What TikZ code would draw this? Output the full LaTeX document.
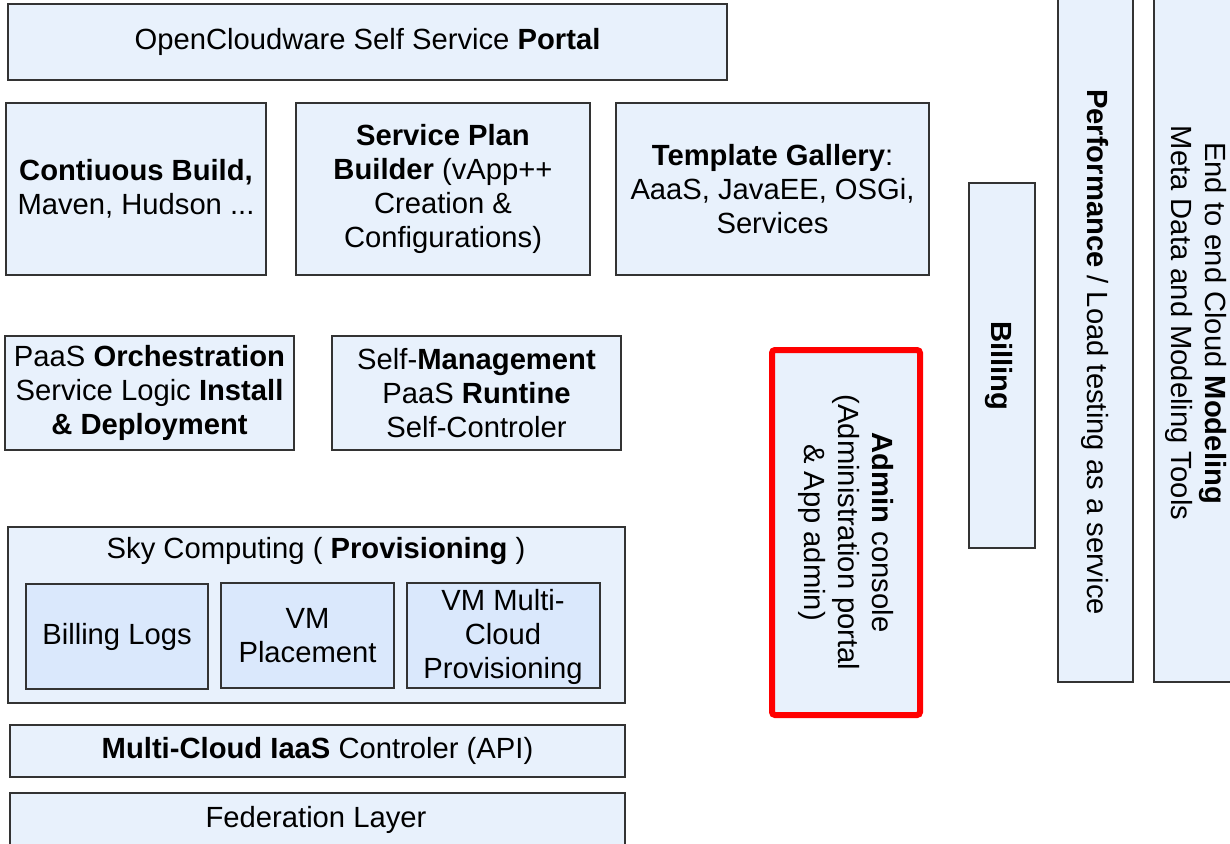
\documentclass[tikz,border=0pt]{standalone}
\usepackage{fontspec}
\setmainfont{Liberation Sans}
\usepackage{tikz}
\usetikzlibrary{fit}
\definecolor{BoxFill}{HTML}{E8F1FC}
\definecolor{SubFill}{HTML}{DAE8FC}
\definecolor{EdgeGray}{HTML}{333333}
\definecolor{AdminRed}{HTML}{FF0000}

\begin{document}
\begin{tikzpicture}[x=0.5pt, y=-0.5pt,
    every node/.style={font=\fontsize{14.6}{17}\selectfont, align=center},
    blk/.style={draw=EdgeGray, fill=BoxFill, line width=0.65pt, inner sep=0pt},
    subblk/.style={blk, fill=SubFill},
    vtext/.style={rotate=-90}]
  \useasboundingbox (0,0) rectangle (1230,843);

  % portal and the tooling row under it
  \node[blk, fit={(8,4) (727,80)}] (portal) {};
  \node (portaltxt) at (portal) {OpenCloudware Self Service \textbf{Portal}};
  \node[blk, fit={(6,103) (266,275)}] (build) {};
  \node (buildtxt) at (build) {\textbf{Contiuous Build,}\\Maven, Hudson ...};
  \node[blk, fit={(296,103) (590,275)}] (planner) {};
  \node (plannertxt) at (planner)
       {\textbf{Service Plan}\\\textbf{Builder} (vApp++\\Creation \&\\Configurations)};
  \node[blk, fit={(616,103) (929,275)}] (gallery) {};
  \node (gallerytxt) at (gallery)
       {\textbf{Template Gallery}:\\AaaS, JavaEE, OSGi,\\Services};

  % runtime layer
  \node[blk, fit={(5,336) (294,450)}] (orch) {};
  \node (orchtxt) at (orch)
       {PaaS \textbf{Orchestration}\\Service Logic \textbf{Install}\\\textbf{\& Deployment}};
  \node[blk, fit={(332,336) (621,450)}] (selfmgmt) {};
  \node (selfmgmttxt) at (selfmgmt)
       {Self-\textbf{Management}\\PaaS \textbf{Runtine}\\Self-Controler};

  % provisioning with its three parts
  \node[blk, fit={(8,527) (625,703)}] (sky) {};
  \node (skytxt) at (316,551) {Sky Computing ( \textbf{Provisioning} )};
  \node[subblk, fit={(26,584) (208,689)}] (billlogs) {};
  \node (billlogstxt) at (billlogs) {Billing Logs};
  \node[subblk, fit={(221,583) (394,688)}] (placement) {};
  \node (placementtxt) at (placement) {VM\\Placement};
  \node[subblk, fit={(407,583) (600,688)}] (multiprov) {};
  \node (multiprovtxt) at (503,637) {VM Multi-\\Cloud\\Provisioning};

  % IaaS and federation
  \node[blk, fit={(10,725) (625,777)}] (iaas) {};
  \node (iaastxt) at (iaas) {\textbf{Multi-Cloud IaaS} Controler (API)};
  \node[blk, fit={(10,793) (625,860)}] (fed) {};
  \node (fedtxt) at (316,820) {Federation Layer};

  % vertical side blocks
  \node[blk, draw=AdminRed, line width=3pt, rounded corners=1.5pt,
        fit={(772,350) (920,715)}] (admin) {};
  \node[vtext] (admintxt) at (admin)
       {\textbf{Admin} console\\(Administration portal\\\& App admin)};
  \node[blk, fit={(969,183) (1035,548)}] (billing) {};
  \node[vtext] (billingtxt) at (999,366) {\textbf{Billing}};
  \node[blk, fit={(1058,-10) (1133,682)}] (perf) {};
  \node[vtext] (perftxt) at (1095,352)
       {\textbf{Performance} / Load testing as a service};
  \node[blk, fit={(1154,-10) (1245,682)}] (modeling) {};
  \node[vtext] (modelingtxt) at (1196,323)
       {End to end Cloud \textbf{Modeling}\\Meta Data and Modeling Tools};
\end{tikzpicture}
\end{document}
